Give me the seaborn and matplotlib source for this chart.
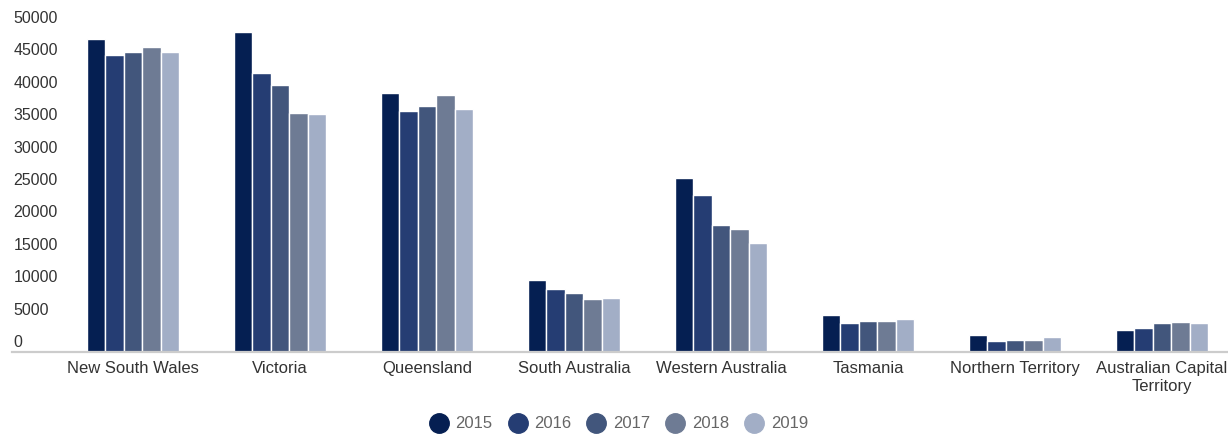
import matplotlib
matplotlib.use("Agg")
import matplotlib.pyplot as plt
import matplotlib.transforms as mtransforms
from matplotlib.lines import Line2D
import seaborn as sns
import pandas as pd

states = ["New South Wales", "Victoria", "Queensland", "South Australia",
          "Western Australia", "Tasmania", "Northern Territory",
          "Australian Capital\nTerritory"]
years = ["2015", "2016", "2017", "2018", "2019"]
v2015 = [48350, 49320, 39990, 11040, 26830, 5730, 2630, 3410]
v2016 = [45880, 43080, 37200, 9650, 24200, 4490, 1700, 3720]
v2017 = [46340, 41220, 37970, 9180, 19560, 4800, 1860, 4490]
v2018 = [47110, 36890, 39680, 8250, 18940, 4800, 1860, 4640]
v2019 = [46340, 36730, 37510, 8410, 16880, 5110, 2320, 4490]
yticks = [0, 5000, 10000, 15000, 20000, 25000, 30000, 35000, 40000, 45000, 50000]

colors = ["#051F52", "#253D73", "#42567C", "#6E7B94", "#A2AEC6"]

rows = []
for yr, vals in zip(years, [v2015, v2016, v2017, v2018, v2019]):
    for s, v in zip(states, vals):
        rows.append({"state": s, "year": yr, "value": v})
df = pd.DataFrame(rows)

sns.set_theme(style="white")
plt.rcParams["font.family"] = ["Liberation Sans", "DejaVu Sans"]

W, H = 1228, 437
fig = plt.figure(figsize=(W / 100, H / 100), dpi=100)
left_px, right_px, base_px, top_px = 12, 1228, 352, 28
ax = fig.add_axes([left_px / W, (H - base_px) / H, (right_px - left_px) / W, (base_px - top_px) / H])

sns.barplot(data=df, x="state", y="value", hue="year", order=states, hue_order=years,
            palette=colors, saturation=1, width=0.626, dodge=True, edgecolor="white",
            linewidth=1, errorbar=None, legend=False, ax=ax)

# Group spacing of 147 px, first group centred at 133 px
ax.set_xlim((left_px - 133) / 147, (right_px - 133) / 147)
ax.set_ylim(0, 50000)
ax.set_xlabel("")
ax.set_ylabel("")

for sp in ["top", "right", "left"]:
    ax.spines[sp].set_visible(False)
ax.spines["bottom"].set_color("#cccccc")
ax.spines["bottom"].set_linewidth(1.6)

ax.set_yticks(yticks)
ax.set_yticklabels([str(t) for t in yticks])
ax.tick_params(axis="y", length=0, pad=-1, labelsize=11.5, labelcolor="#333333")
ax.tick_params(axis="x", length=0, pad=6.5, labelsize=12, labelcolor="#333333")
offset = mtransforms.ScaledTranslation(0, 5 / 100, fig.dpi_scale_trans)
for lab in ax.get_yticklabels():
    lab.set_horizontalalignment("left")
    lab.set_verticalalignment("baseline")
    lab.set_transform(lab.get_transform() + offset)
for lab in ax.get_xticklabels():
    lab.set_linespacing(1.25)

handles = [Line2D([0], [0], marker="o", linestyle="", markersize=14,
                  markerfacecolor=c, markeredgecolor=c) for c in colors]
leg = fig.legend(handles, years, loc="center", bbox_to_anchor=(618 / W, (H - 424) / H),
                 ncol=5, frameon=False, fontsize=12, handletextpad=0.35,
                 columnspacing=0.85, handlelength=1.3)
for t in leg.get_texts():
    t.set_color("#666666")

fig.savefig("out.png", dpi=100)
